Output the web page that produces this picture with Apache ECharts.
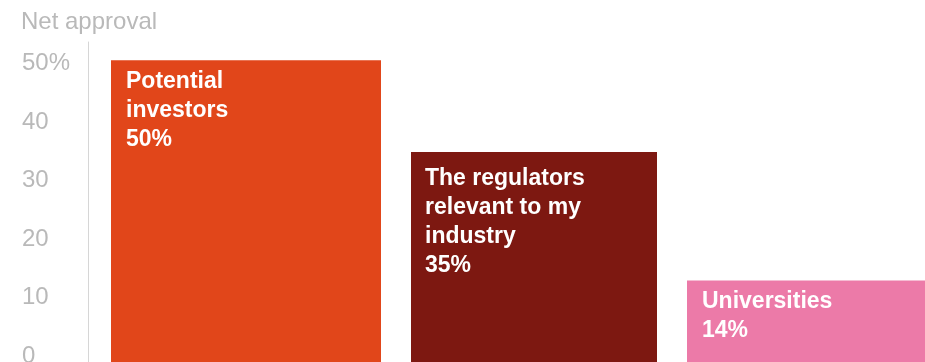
<!DOCTYPE html>
<html>
<head>
<meta charset="utf-8">
<script src="https://cdn.jsdelivr.net/npm/echarts@6/dist/echarts.min.js"></script>
<style>
  html, body { margin: 0; padding: 0; background: #fff; }
  #chart { width: 925px; height: 362px; }
</style>
</head>
<body>
<div id="chart"></div>
<script>
// Net approval by stakeholder group
const categories = ['Potential\ninvestors', 'The regulators\nrelevant to my\nindustry', 'Universities'];
const netApproval = [50, 35, 14];
const tickValues = [0, 10, 20, 30, 40, 50];
const tickLabels = ['0', '10', '20', '30', '40', '50%'];

// Styling
const barColors = ['#E1461A', '#7D1811', '#EC7AA8'];
const barWidths = [270, 246, 270];
const labelInset = [[15, 7], [14, 12], [15, 7]];
const mutedGrey = '#b9b9b9';
const baseFont = '"Liberation Sans", Arial, Helvetica, sans-serif';

const chart = echarts.init(document.getElementById('chart'), null, { renderer: 'canvas' });

chart.setOption({
  animation: false,
  backgroundColor: '#ffffff',
  title: {
    text: 'Net approval',
    left: 21,
    top: 10,
    padding: 0,
    textStyle: { color: mutedGrey, fontSize: 24, fontWeight: 'normal', fontFamily: baseFont }
  },
  grid: [
    // bars (the plot runs past the right and bottom edges of the canvas)
    { left: 102, top: 42, width: 864, height: 324, outerBoundsMode: 'none', containLabel: false },
    // value scale with axis line
    { left: 88, top: 42, width: 1, height: 320, outerBoundsMode: 'none', containLabel: false }
  ],
  xAxis: [
    { gridIndex: 0, type: 'category', data: categories, show: false },
    { gridIndex: 1, type: 'value', show: false }
  ],
  yAxis: [
    { gridIndex: 0, type: 'value', min: 0, max: 53, show: false },
    {
      gridIndex: 1,
      type: 'value',
      min: -1,
      max: 53.7,
      axisLine: { show: true, lineStyle: { color: '#d6d6d6', width: 1 } },
      axisTick: { show: false },
      splitLine: { show: false },
      axisLabel: {
        showMinLabel: false,
        showMaxLabel: false,
        align: 'left',
        margin: 66,
        padding: [4, 0, 0, 0],
        color: mutedGrey,
        fontSize: 24,
        fontFamily: baseFont,
        formatter: function (v) {
          const k = tickValues.indexOf(v);
          return k >= 0 ? tickLabels[k] : '';
        }
      }
    }
  ],
  series: [
    {
      type: 'custom',
      xAxisIndex: 0,
      yAxisIndex: 0,
      clip: false,
      data: netApproval.map(function (v, i) { return [i, v]; }),
      renderItem: function (params, api) {
        const i = api.value(0);
        const v = api.value(1);
        const topPt = api.coord([i, v]);
        const basePt = api.coord([i, 0]);
        const w = barWidths[i];
        const x = topPt[0] - w / 2;
        return {
          type: 'group',
          children: [
            {
              type: 'rect',
              shape: { x: x, y: topPt[1], width: w, height: basePt[1] - topPt[1] },
              style: { fill: barColors[i] }
            },
            {
              type: 'text',
              x: x + labelInset[i][0],
              y: topPt[1] + labelInset[i][1],
              style: {
                text: categories[i] + '\n' + v + '%',
                fill: '#ffffff',
                font: 'bold 23px ' + baseFont,
                lineHeight: 29,
                align: 'left',
                verticalAlign: 'top'
              }
            }
          ]
        };
      }
    }
  ]
});
</script>
</body>
</html>
